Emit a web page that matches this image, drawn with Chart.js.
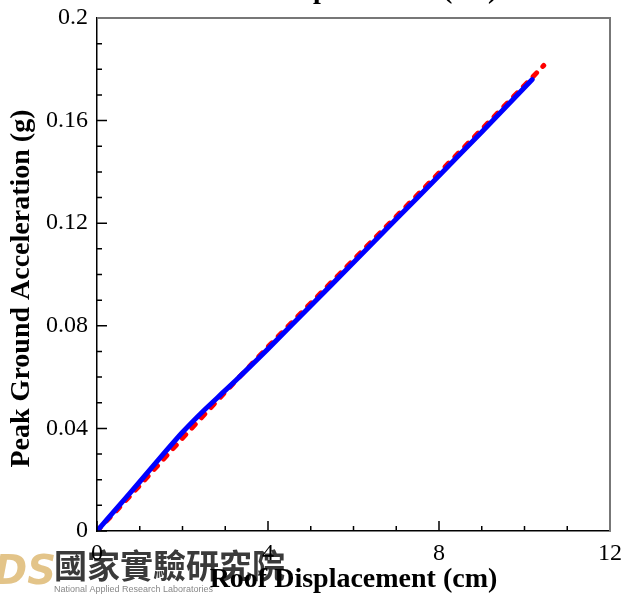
<!DOCTYPE html>
<html>
<head>
<meta charset="utf-8">
<script src="https://cdn.jsdelivr.net/npm/chart.js@4/dist/chart.umd.min.js"></script>
<style>
  html, body { margin: 0; padding: 0; background: #fff; }
  #wrap { width: 621px; height: 597px; }
</style>
</head>
<body>
<div id="wrap"><canvas id="pgaChart" width="621" height="597"></canvas></div>
<script>
// roof displacement (cm) vs PGA (g)
const blueX = [0, 0.5, 1, 1.5, 2, 2.5, 3, 3.5, 4, 5, 6, 7, 8, 9, 10.18];
const blueY = [0, 0.0096, 0.0192, 0.029, 0.0385, 0.047, 0.0548, 0.0628, 0.071, 0.0878, 0.1047, 0.1216, 0.1385, 0.1556, 0.176];
const redX = [0, 0.5, 1, 1.5, 2, 2.5, 3, 3.5, 4, 5, 6, 7, 8, 9, 10, 10.45];
const redY = [0, 0.0088, 0.0178, 0.027, 0.0362, 0.0452, 0.0542, 0.063, 0.0718, 0.0888, 0.1057, 0.1226, 0.1396, 0.1566, 0.1737, 0.1815];

const xTicks = [0, 4, 8, 12];
const xTickLabels = ["0", "4", "8", "12"];
const yTicks = [0, 0.04, 0.08, 0.12, 0.16, 0.2];
const yTickLabels = ["0", "0.04", "0.08", "0.12", "0.16", "0.2"];
const xMinorStep = 1;
const yMinorStep = 0.01;

const serif = "'Liberation Serif', 'Times New Roman', serif";

function toPoints(xs, ys) {
  return xs.map((x, i) => ({ x: x, y: ys[i] }));
}

// white page + faded logo behind the chart
const backdrop = {
  id: "backdrop",
  beforeDraw(chart) {
    const ctx = chart.ctx;
    ctx.save();
    ctx.fillStyle = "#fff";
    ctx.fillRect(0, 0, chart.width, chart.height);

    ctx.fillStyle = "#e3c489";
    ctx.font = "italic bold 40px 'DejaVu Sans'";
    ctx.textBaseline = "alphabetic";
    ctx.fillText("DS", -6, 584);

    ctx.fillStyle = "#3a3a3a";
    ctx.font = "bold 33px 'Noto Sans CJK TC'";
    ctx.fillText("國家實驗研究院", 54, 578);

    ctx.fillStyle = "#888";
    ctx.font = "9px 'Liberation Sans'";
    ctx.fillText("National Applied Research Laboratories", 54, 592);
    ctx.restore();
  },
};

// ticks inside the frame, plus the grey top/right edges
const frame = {
  id: "frame",
  afterDraw(chart) {
    const ctx = chart.ctx;
    const xs = chart.scales.x;
    const ys = chart.scales.y;
    const a = chart.chartArea;
    ctx.save();
    ctx.strokeStyle = "#000";
    ctx.lineWidth = 1.5;
    ctx.beginPath();
    for (let v = 0; v <= 12 + 1e-9; v += xMinorStep) {
      const px = xs.getPixelForValue(v);
      const len = xTicks.includes(Math.round(v)) ? 10 : 5;
      ctx.moveTo(px, a.bottom);
      ctx.lineTo(px, a.bottom - len);
    }
    for (let k = 0; k <= 20; k++) {
      const v = k * yMinorStep;
      const py = ys.getPixelForValue(v);
      const len = k % 4 === 0 ? 10 : 5;
      ctx.moveTo(a.left, py);
      ctx.lineTo(a.left + len, py);
    }
    ctx.stroke();

    ctx.strokeStyle = "#777";
    ctx.lineWidth = 2;
    ctx.beginPath();
    ctx.moveTo(a.left, a.top);
    ctx.lineTo(a.right, a.top);
    ctx.lineTo(a.right, a.bottom);
    ctx.stroke();

    // axis title of the panel above, cut by the page edge
    ctx.fillStyle = "#000";
    ctx.font = "bold 28px " + serif;
    ctx.textAlign = "center";
    ctx.textBaseline = "alphabetic";
    ctx.fillText("Roof Displacement (cm)", (a.left + a.right) / 2, -2);
    ctx.restore();
  },
};

new Chart(document.getElementById("pgaChart"), {
  type: "line",
  data: {
    datasets: [
      {
        label: "blue",
        data: toPoints(blueX, blueY),
        borderColor: "#0000ff",
        borderWidth: 5,
        borderCapStyle: "round",
        borderJoinStyle: "round",
        pointRadius: 0,
        tension: 0.2,
        order: 0,
      },
      {
        label: "red",
        data: toPoints(redX, redY),
        borderColor: "#ff0000",
        borderWidth: 5,
        borderDash: [5, 9],
        borderCapStyle: "round",
        pointRadius: 0,
        tension: 0,
        order: 1,
      },
    ],
  },
  options: {
    responsive: false,
    animation: false,
    events: [],
    layout: { padding: { top: 18, right: 11, left: 0, bottom: 0 } },
    plugins: {
      legend: { display: false },
      tooltip: { enabled: false },
    },
    scales: {
      x: {
        type: "linear",
        min: 0,
        max: 12,
        afterBuildTicks: (scale) => {
          scale.ticks = xTicks.map((v) => ({ value: v }));
        },
        afterFit: (scale) => {
          scale.height = 66;
          scale.paddingLeft = 0;
          scale.paddingRight = 0;
        },
        ticks: {
          callback: (v, i) => xTickLabels[i],
          color: "#000",
          font: { family: serif, size: 24 },
          padding: 8,
          maxRotation: 0,
        },
        grid: { display: false, drawTicks: false },
        border: { display: true, color: "#000", width: 1.5 },
        title: {
          display: true,
          text: "Roof Displacement (cm)",
          color: "#000",
          font: { family: serif, size: 28, weight: "bold" },
          padding: { top: 0, bottom: 0 },
        },
      },
      y: {
        type: "linear",
        min: 0,
        max: 0.2,
        afterBuildTicks: (scale) => {
          scale.ticks = yTicks.map((v) => ({ value: v }));
        },
        afterFit: (scale) => {
          scale.width = 97;
          scale.paddingTop = 0;
          scale.paddingBottom = 0;
        },
        ticks: {
          callback: (v, i) => yTickLabels[i],
          color: "#000",
          font: { family: serif, size: 24 },
          padding: 9,
        },
        grid: { display: false, drawTicks: false },
        border: { display: true, color: "#000", width: 1.5 },
        title: {
          display: true,
          text: "Peak Ground Acceleration (g)    ",
          color: "#000",
          font: { family: serif, size: 28, weight: "bold" },
          padding: { top: 5, bottom: 0 },
        },
      },
    },
  },
  plugins: [backdrop, frame],
});
</script>
</body>
</html>
